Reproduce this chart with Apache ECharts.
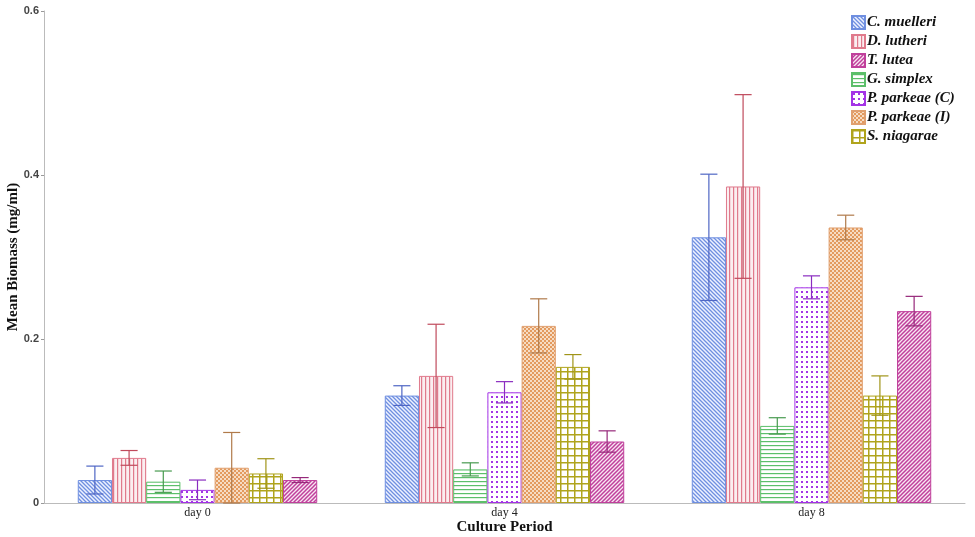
<!DOCTYPE html>
<html>
<head>
<meta charset="utf-8">
<script src="https://cdn.jsdelivr.net/npm/echarts@6/dist/echarts.min.js"></script>
<style>html,body{margin:0;padding:0;background:#fff;}#c{width:975px;height:537px;}</style>
</head>
<body>
<div id="c"></div>
<script>
// ---- data ----
var categories = ['day 0', 'day 4', 'day 8'];
var yTicks = [0, 0.2, 0.4, 0.6];
var legendOrder = ['C. muelleri', 'D. lutheri', 'T. lutea', 'G. simplex', 'P. parkeae (C)', 'P. parkeae (I)', 'S. niagarae'];
// bar order within each group
var seriesNames = ['C. muelleri', 'D. lutheri', 'G. simplex', 'P. parkeae (C)', 'P. parkeae (I)', 'S. niagarae', 'T. lutea'];
var cMuelleri    = [0.028, 0.131, 0.324];
var dLutheri     = [0.055, 0.155, 0.386];
var gSimplex     = [0.026, 0.041, 0.094];
var pParkeaeC    = [0.016, 0.135, 0.263];
var pParkeaeI    = [0.043, 0.216, 0.336];
var sNiagarae    = [0.036, 0.166, 0.131];
var tLutea       = [0.028, 0.075, 0.234];
var cMuelleriErr = [0.017, 0.012, 0.077];
var dLutheriErr  = [0.009, 0.063, 0.112];
var gSimplexErr  = [0.013, 0.008, 0.010];
var pParkeaeCErr = [0.012, 0.013, 0.014];
var pParkeaeIErr = [0.043, 0.033, 0.015];
var sNiagaraeErr = [0.018, 0.015, 0.024];
var tLuteaErr    = [0.003, 0.013, 0.018];

var values = [cMuelleri, dLutheri, gSimplex, pParkeaeC, pParkeaeI, sNiagarae, tLutea];
var errors = [cMuelleriErr, dLutheriErr, gSimplexErr, pParkeaeCErr, pParkeaeIErr, sNiagaraeErr, tLuteaErr];

// ---- styles ----
var lineColors = ['#6f8fe0', '#e07a8c', '#5cbf6a', '#a434e6', '#e0a070', '#b0a41c', '#c0409c'];
var errColors  = ['#4f66c4', '#c04a5c', '#479a4f', '#8a2cc0', '#b07a4a', '#a09418', '#96287a'];
var bgColors   = ['#eef2ff', '#fbeef0', '#ffffff', '#ffffff', '#f6dcc4', '#ffffff', '#f8e6f2'];
var catGap = 0.22;

function makePattern(i) {
  var c = document.createElement('canvas');
  var s, ctx;
  var col = lineColors[i];
  if (i === 0 || i === 6) { s = 4; }
  else if (i === 1 || i === 2) { s = 4; }
  else if (i === 3) { s = 5; }
  else if (i === 4) { s = 4; }
  else { s = 7; }
  c.width = s; c.height = s;
  ctx = c.getContext('2d');
  ctx.fillStyle = bgColors[i];
  ctx.fillRect(0, 0, s, s);
  ctx.strokeStyle = col; ctx.fillStyle = col;
  if (i === 0) { // \\\ diagonal
    ctx.lineWidth = 1.3;
    ctx.beginPath();
    ctx.moveTo(-1, -1); ctx.lineTo(s + 1, s + 1);
    ctx.moveTo(-1, s - 1); ctx.lineTo(1, s + 1);
    ctx.moveTo(s - 1, -1); ctx.lineTo(s + 1, 1);
    ctx.stroke();
  } else if (i === 6) { // /// diagonal
    ctx.lineWidth = 1.5;
    ctx.beginPath();
    ctx.moveTo(-1, s + 1); ctx.lineTo(s + 1, -1);
    ctx.moveTo(-1, 1); ctx.lineTo(1, -1);
    ctx.moveTo(s - 1, s + 1); ctx.lineTo(s + 1, s - 1);
    ctx.stroke();
  } else if (i === 1) { // vertical
    ctx.fillRect(1, 0, 1.2, s);
  } else if (i === 2) { // horizontal
    ctx.fillRect(0, 1, s, 1.2);
  } else if (i === 3) { // dots
    ctx.fillRect(1, 1, 2, 2);
  } else if (i === 4) { // dense checker
    ctx.fillStyle = '#e39a5e';
    ctx.fillRect(0, 0, 2, 2);
    ctx.fillRect(2, 2, 2, 2);
  } else { // grid
    ctx.fillRect(0, 0, s, 1.5);
    ctx.fillRect(0, 0, 1.5, s);
  }
  return { image: c, repeat: 'repeat' };
}

var series = [];
for (var i = 0; i < seriesNames.length; i++) {
  series.push({
    name: seriesNames[i],
    type: 'bar',
    data: values[i],
    barGap: '0%',
    barCategoryGap: (catGap * 100) + '%',
    itemStyle: { color: makePattern(i), borderColor: lineColors[i], borderWidth: 1 },
    emphasis: { disabled: true }
  });
}

var errData = [];
for (var s = 0; s < values.length; s++) {
  for (var k = 0; k < categories.length; k++) {
    errData.push([k, s, values[s][k], errors[s][k]]);
  }
}
series.push({
  type: 'custom',
  name: 'err',
  z: 10,
  silent: true,
  encode: { x: 0, y: 2 },
  data: errData,
  renderItem: function (params, api) {
    var k = api.value(0), sIdx = api.value(1), m = api.value(2), e = api.value(3);
    var lo = Math.max(0, m - e), hi = m + e;
    var pHi = api.coord([k, hi]);
    var pLo = api.coord([k, lo]);
    var band = api.size([1, 0])[0];
    var bw = band * (1 - catGap) / seriesNames.length;
    var x = pHi[0] + (sIdx - (seriesNames.length - 1) / 2) * bw;
    var hw = bw * 0.25;
    var st = { stroke: errColors[sIdx], lineWidth: 1.2 };
    return {
      type: 'group',
      children: [
        { type: 'line', shape: { x1: x, y1: pHi[1], x2: x, y2: pLo[1] }, style: st },
        { type: 'line', shape: { x1: x - hw, y1: pHi[1], x2: x + hw, y2: pHi[1] }, style: st },
        { type: 'line', shape: { x1: x - hw, y1: pLo[1], x2: x + hw, y2: pLo[1] }, style: st }
      ]
    };
  }
});

var chart = echarts.init(document.getElementById('c'), null, { renderer: 'canvas' });
chart.setOption({
  animation: false,
  backgroundColor: '#ffffff',
  grid: { left: 44, right: 10, top: 11, bottom: 34, containLabel: false, outerBoundsMode: 'none' },
  legend: {
    data: legendOrder,
    orient: 'vertical',
    left: 851,
    top: 15,
    padding: 0,
    itemWidth: 13,
    itemHeight: 13,
    itemGap: 4,
    icon: 'rect',
    textStyle: { fontFamily: 'Liberation Serif', fontWeight: 'bold', fontStyle: 'italic', fontSize: 15, color: '#111', padding: [0, 0, 0, -3] }
  },
  xAxis: {
    type: 'category',
    data: categories,
    name: 'Culture Period',
    nameLocation: 'middle',
    nameGap: 17,
    nameMoveOverlap: false,
    nameTextStyle: { fontFamily: 'Liberation Serif', fontWeight: 'bold', fontSize: 15, color: '#111' },
    axisLine: { lineStyle: { color: '#bbbbbb' } },
    axisTick: { show: false },
    axisLabel: { fontFamily: 'Liberation Serif', fontSize: 12, color: '#222', margin: 4 }
  },
  yAxis: {
    type: 'value',
    min: yTicks[0],
    max: yTicks[yTicks.length - 1],
    interval: 0.2,
    name: 'Mean Biomass (mg/ml)',
    nameLocation: 'middle',
    nameGap: 23,
    nameMoveOverlap: false,
    nameTextStyle: { fontFamily: 'Liberation Serif', fontWeight: 'bold', fontSize: 15, color: '#111' },
    axisLine: { show: true, lineStyle: { color: '#bbbbbb' } },
    axisTick: { show: true, length: 3, lineStyle: { color: '#999' } },
    splitLine: { show: false },
    axisLabel: {
      fontFamily: 'Liberation Sans', fontWeight: 'bold', fontSize: 11, color: '#444', margin: 5,
      formatter: function (v) { return v === 0 ? '0' : String(Math.round(v * 10) / 10); }
    }
  },
  series: series
});
</script>
</body>
</html>
